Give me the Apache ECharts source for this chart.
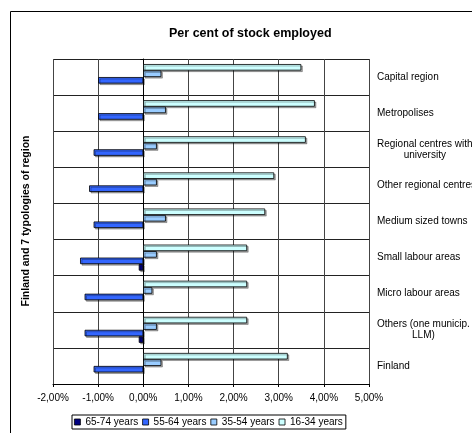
<!DOCTYPE html>
<html><head><meta charset="utf-8">
<script src="https://cdn.jsdelivr.net/npm/echarts@6/dist/echarts.min.js"></script>
<style>html,body{margin:0;padding:0;background:#fff}#c{width:472px;height:433px}</style>
</head><body><div id="c"></div>
<script>
const categories = ['Capital region','Metropolises','Regional centres with\nuniversity','Other regional centres','Medium sized towns','Small labour areas','Micro labour areas','Others (one municip.\nLLM)','Finland'];
const seriesNames = ['16-34 years','35-54 years','55-64 years','65-74 years'];
const legendOrder = ['65-74 years','55-64 years','35-54 years','16-34 years'];
const age16_34 = [3.5, 3.8, 3.6, 2.9, 2.7, 2.3, 2.3, 2.3, 3.2];
const age35_54 = [0.4, 0.5, 0.3, 0.3, 0.5, 0.3, 0.2, 0.3, 0.4];
const age55_64 = [-1.0, -1.0, -1.1, -1.2, -1.1, -1.4, -1.3, -1.3, -1.1];
const age65_74 = [0, 0, 0, 0, 0, -0.1, 0, -0.1, 0];
const xTickLabels = ['-2,00%','-1,00%','0,00%','1,00%','2,00%','3,00%','4,00%','5,00%'];
const colors = ['#CCFFFF','#99CCFF','#3366FF','#000080'];

const FONT = 'Liberation Sans, Arial, sans-serif';
const chart = echarts.init(document.getElementById('c'), null, {renderer:'canvas'});
const values = [age16_34, age35_54, age55_64, age65_74];

const series = seriesNames.map((n, i) => ({
  name: n,
  type: 'bar',
  yAxisIndex: 0,
  data: values[i].map(v => v === 0
    ? {value: v, itemStyle: {borderWidth: 0, shadowColor: 'transparent', opacity: 0}}
    : v),
  barGap: '0%',
  barCategoryGap: '28%',
  itemStyle: {
    color: colors[i],
    borderColor: '#000',
    borderWidth: 0.8,
    shadowColor: 'rgba(0,0,0,0.35)',
    shadowOffsetX: 1.5,
    shadowOffsetY: 1.5,
    shadowBlur: 0
  },
  emphasis: {disabled: true},
  animation: false
}));

chart.setOption({
  animation: false,
  textStyle: {fontFamily: FONT},
  title: {
    text: 'Per cent of stock employed',
    left: 169, top: 27, padding: 0,
    textStyle: {fontSize: 12.5, fontWeight: 'bold', color: '#000', fontFamily: FONT}
  },
  graphic: [
    {type: 'rect', z: -10, shape: {x: 10.5, y: 11.5, width: 520, height: 500},
     style: {fill: 'none', stroke: '#000', lineWidth: 1}},
    {type: 'text', x: 26, y: 221, rotation: Math.PI / 2,
     style: {text: 'Finland and 7 typologies of region', font: 'bold 10.5px ' + FONT,
             fill: '#000', textAlign: 'center', textVerticalAlign: 'middle'}}
  ],
  legend: {
    data: legendOrder,
    left: 72, top: 415,
    orient: 'horizontal',
    icon: 'rect',
    itemWidth: 6, itemHeight: 6, itemGap: 4,
    padding: [2, 3, 2, 2],
    borderColor: '#000', borderWidth: 1,
    textStyle: {fontSize: 10, color: '#000', fontFamily: FONT},
    itemStyle: {borderColor: '#000', borderWidth: 0.8, shadowBlur: 0, shadowOffsetX: 0, shadowOffsetY: 0, shadowColor: 'transparent', opacity: 1},
    selectedMode: false
  },
  grid: {left: 53, right: 103, top: 59, bottom: 49, containLabel: false, outerBoundsMode: 'none'},
  xAxis: {
    type: 'value', min: -2, max: 5, interval: 1,
    axisLine: {show: true, onZero: false, lineStyle: {color: '#000', width: 1}},
    axisTick: {show: true, length: 3, lineStyle: {color: '#000'}},
    axisLabel: {margin: 9, fontSize: 10, color: '#000', fontFamily: FONT,
      formatter: v => xTickLabels[Math.round(v) + 2]},
    splitLine: {show: true, lineStyle: {color: '#444', width: 1}}
  },
  yAxis: [
    {
      type: 'category', data: categories, inverse: true, position: 'right',
      axisLine: {show: false, onZero: false},
      axisTick: {show: false},
      splitLine: {show: true, interval: 0, lineStyle: {color: '#222', width: 1}},
      axisLabel: {
        margin: 8, fontSize: 10, color: '#000', fontFamily: FONT, interval: 0,
        lineHeight: 11,
        formatter: s => s.indexOf('\n') >= 0 ? s.split('\n').map(l => '{c|' + l + '}').join('\n') : s,
        rich: {c: {align: 'center', fontSize: 10, lineHeight: 11, color: '#000', fontFamily: FONT}}
      }
    },
    {
      type: 'category', data: categories, inverse: true, position: 'left',
      axisLine: {show: true, onZero: true, lineStyle: {color: '#000', width: 1}},
      axisTick: {show: true, length: 3, interval: 0, lineStyle: {color: '#000'}},
      axisLabel: {show: false},
      splitLine: {show: false}
    }
  ],
  series: series
});
</script></body></html>
